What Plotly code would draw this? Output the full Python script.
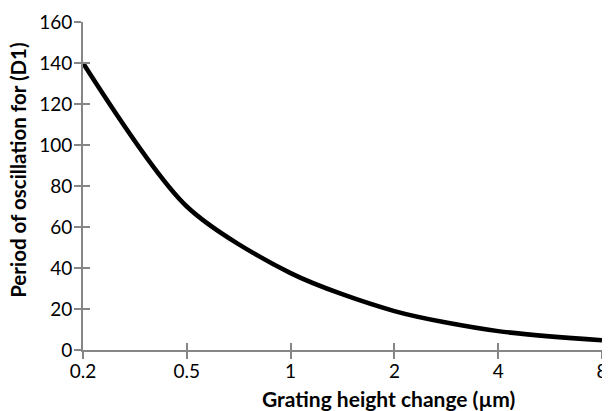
import plotly.graph_objects as go

categories = ["0.2", "0.5", "1", "2", "4", "8"]
period = [140, 70, 37.5, 19, 9.2, 4.8]
y_ticks = [0, 20, 40, 60, 80, 100, 120, 140, 160]
x_title = "<b>Grating height change (µm)</b>"
y_title = "<b>Period of oscillation for (D1)</b>"

xpos = list(range(len(categories)))
font_family = "Lato, Open Sans, sans-serif"
axis_color = "#868686"

fig = go.Figure()
fig.add_trace(go.Scatter(
    x=xpos, y=period, mode="lines",
    line=dict(color="black", width=4.5, shape="spline", smoothing=0.8),
    showlegend=False, hoverinfo="skip",
))
fig.add_trace(go.Scatter(x=[xpos[0]], y=[0], xaxis="x2", yaxis="y2",
                         mode="markers", marker=dict(opacity=0),
                         showlegend=False, hoverinfo="skip"))

common_x = dict(range=[0, len(categories) - 1], tickvals=xpos, showgrid=False,
                zeroline=False, showline=True, linecolor=axis_color, linewidth=2,
                tickcolor=axis_color, tickwidth=2, ticklen=7)
common_y = dict(range=[0, 160], tickvals=y_ticks, showgrid=False, zeroline=False,
                showline=True, linecolor=axis_color, linewidth=2,
                tickcolor=axis_color, tickwidth=2, ticklen=7)

tick_font = dict(family=font_family, size=19, color="black")

# page body has an 8px margin, so the figure is sized/offset to compensate
fig.update_layout(
    width=602, height=403,
    margin=dict(l=75, r=2, t=9, b=61),
    paper_bgcolor="white", plot_bgcolor="white",
    font=dict(family=font_family, size=20, color="black"),
    xaxis=dict(**common_x, ticks="inside", ticktext=categories,
               ticklabeloverflow="allow", tickfont=tick_font,
               ticklabelstandoff=3),
    yaxis=dict(**common_y, ticks="inside", ticklabeloverflow="allow",
               tickfont=tick_font, ticklabelstandoff=5),
    xaxis2=dict(**common_x, ticks="outside", overlaying="x", showticklabels=False),
    yaxis2=dict(**common_y, ticks="outside", overlaying="y", showticklabels=False),
    annotations=[
        dict(text=x_title, xref="paper", yref="paper", x=0.5886, y=-0.147,
             xanchor="center", yanchor="middle", showarrow=False,
             font=dict(family=font_family, size=21, color="black")),
        dict(text=y_title, xref="paper", yref="paper", x=-0.125, y=0.5465,
             xanchor="center", yanchor="middle", showarrow=False, textangle=-90,
             font=dict(family=font_family, size=20.5, color="black")),
    ],
)

fig.write_html("out.html")
